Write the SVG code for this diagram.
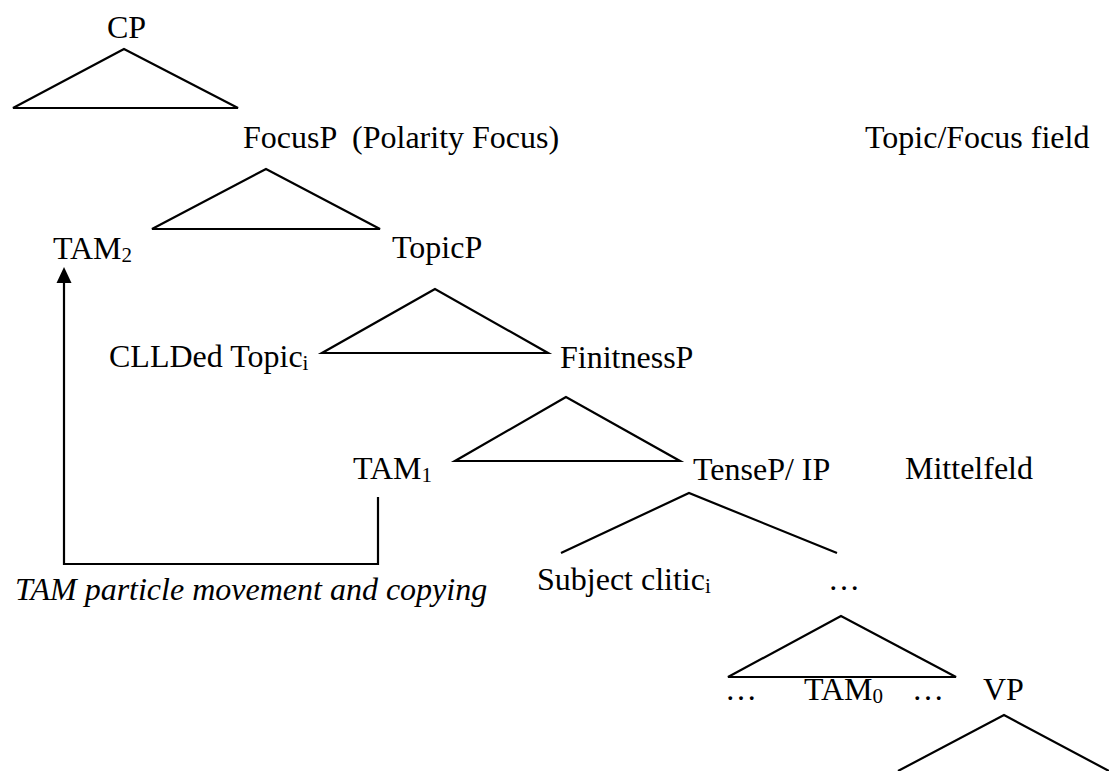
<svg xmlns="http://www.w3.org/2000/svg" width="1109" height="771" viewBox="0 0 1109 771">
<style>
text{font-family:"Liberation Serif","Times New Roman",serif;font-size:32px;fill:#000}
.sub{font-size:21px}
.it{font-style:italic}
.ln{fill:none;stroke:#000;stroke-width:2.2;stroke-linejoin:miter}
</style>
<defs>
<marker id="ah" markerWidth="16" markerHeight="16" refX="8" refY="1" orient="auto-start-reverse" markerUnits="userSpaceOnUse" viewBox="0 0 16 16">
<path d="M8,0 L15.5,16 L0.5,16 Z" fill="#000"/>
</marker>
</defs>
<rect width="1109" height="771" fill="#fff"/>
<g id="connectors">
<polygon class="ln" points="124,49 13,108 238,108"/>
<polygon class="ln" points="266,169 152,229 380,229"/>
<polygon class="ln" points="435,289 322,353 548,353"/>
<polygon class="ln" points="566,397 455,461 680,461"/>
<polyline class="ln" points="561,553 689,493 837,553"/>
<polygon class="ln" points="841,616 728,677 956,677"/>
<polyline class="ln" points="898,771 1004,715 1109,771"/>
<path class="ln" d="M378,497 V564 H64 V282"/>
<path d="M64,267 L71.5,283 L56.5,283 Z" fill="#000"/>
</g>
<g id="cp"><text x="107" y="38">CP</text></g>
<g id="focusp"><text x="243" y="148" xml:space="preserve">FocusP  (Polarity Focus)</text></g>
<g id="topicfocusfield"><text x="865" y="148">Topic/Focus field</text></g>
<g id="tam2"><text x="53" y="259">TAM<tspan class="sub" dy="3">2</tspan></text></g>
<g id="topicp"><text x="392" y="258">TopicP</text></g>
<g id="clldedtopic"><text x="109" y="367">CLLDed Topic<tspan class="sub" dy="3">i</tspan></text></g>
<g id="finitnessp"><text x="560" y="368">FinitnessP</text></g>
<g id="tam1"><text x="353" y="479">TAM<tspan class="sub" dy="3">1</tspan></text></g>
<g id="tensep"><text x="693" y="480">TenseP/ IP</text></g>
<g id="mittelfeld"><text x="905" y="479">Mittelfeld</text></g>
<g id="movement"><text class="it" x="15" y="600">TAM particle movement and copying</text></g>
<g id="subjectclitic"><text x="537" y="590">Subject clitic<tspan class="sub" dy="3">i</tspan></text></g>
<g id="dots1"><text x="828" y="590">…</text></g>
<g id="lowerleaves">
<text x="725" y="700">…</text>
<text x="804" y="700">TAM<tspan class="sub" dy="3">0</tspan></text>
<text x="912" y="700">…</text>
</g>
<g id="vp"><text x="983" y="700">VP</text></g>
</svg>
